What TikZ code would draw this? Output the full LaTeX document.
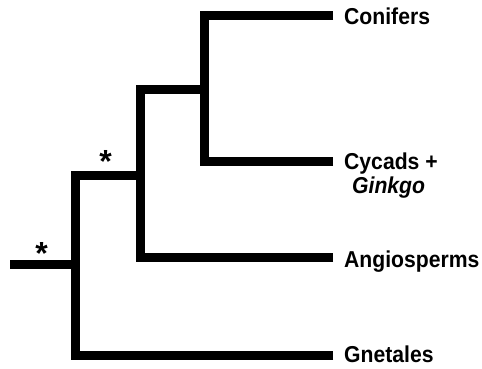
\documentclass[tikz,border=0pt]{standalone}
\usepackage{fontspec}
% heavy sans for the taxon names, narrowed to keep the regular widths
\font\labfont="Liberation Sans/B:extend=0.92" at 23pt
\font\labitfont="Liberation Sans/BI:extend=0.92" at 23pt
\font\markfont="Liberation Sans/B" at 32pt
\begin{document}
\begin{tikzpicture}[x=1pt,y=1pt,
  branch/.style={line width=9pt,line cap=butt,line join=miter},
  taxon/.style={anchor=base west,inner sep=0pt,font=\labfont},
  support/.style={anchor=north,inner sep=0pt,font=\markfont}]
\useasboundingbox (0,0) rectangle (482,-369);

% internal nodes of the tree
\coordinate (root) at (10,-264);
\coordinate (n1) at (75,-264);
\coordinate (n2) at (140.5,-175.5);
\coordinate (n3) at (204.7,-89.5);

% branch tips
\coordinate (tCon) at (333,-16);
\coordinate (tCyc) at (333,-161);
\coordinate (tAng) at (333,-257);
\coordinate (tGne) at (333,-355);

% taxon labels
\node[taxon] (con) at (344,-25) {Conifers};
\node[taxon] (cyc) at (344,-169) {Cycads +};
\node[taxon,font=\labitfont] (gin) at (352,-193) {Ginkgo};
\node[taxon] (ang) at (344,-267) {Angiosperms};
\node[taxon] (gne) at (344,-362) {Gnetales};

% branches
\draw[branch] (root) -- (n1);
\draw[branch] (n2) -| (n1);
\draw[branch] (tGne) -| (n1);
\draw[branch] (n3) -| (n2);
\draw[branch] (tAng) -| (n2);
\draw[branch] (tCon) -| (n3);
\draw[branch] (tCyc) -| (n3);

% support marks on the stem branches
\node[support] (s1) at (41.5,-242) {*};
\node[support] (s2) at (105.5,-150) {*};
\end{tikzpicture}
\end{document}
